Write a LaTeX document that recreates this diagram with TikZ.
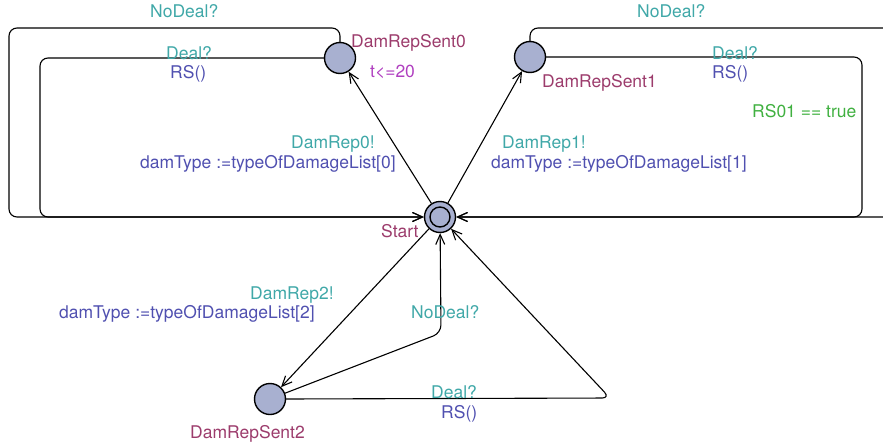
\documentclass[tikz,border=0pt]{standalone}
\usepackage{fontspec}
\setmainfont{TeX Gyre Heros}
\usetikzlibrary{arrows.meta}
\definecolor{locfill}{RGB}{168,176,208}
\definecolor{namecol}{RGB}{156,60,108}
\definecolor{synccol}{RGB}{64,168,168}
\definecolor{assigncol}{RGB}{80,80,176}
\definecolor{guardcol}{RGB}{64,176,64}
\definecolor{invcol}{RGB}{176,64,192}
\tikzset{
  loc/.style={circle,draw=black,line width=1.4pt,fill=locfill,minimum size=31pt,inner sep=0pt},
  edge/.style={draw=black,line width=1.1pt,rounded corners=8pt},
  arr/.style={-{Straight Barb[length=10pt,width=9pt,line width=1.1pt]}},
  lbl/.style={anchor=base west,inner sep=0pt,font=\fontsize{17.5}{21}\selectfont},
  nm/.style={lbl,text=namecol},
  sy/.style={lbl,text=synccol},
  as/.style={lbl,text=assigncol},
  gd/.style={lbl,text=guardcol},
  iv/.style={lbl,text=invcol}
}
\begin{document}
\begin{tikzpicture}[x=1pt,y=-1pt]
\useasboundingbox (0,0) rectangle (883,447);
% locations
\node[loc] (start) at (440,217) {};
\draw[line width=1.4pt] (start.center) circle (10);
\node[loc] (s0) at (340,58) {};
\node[loc] (s1) at (530,57) {};
\node[loc] (s2) at (270,399) {};
% edges
\draw[edge,arr] (start) -- (s0);
\draw[edge,arr] (start) -- (s1);
\draw[edge,arr] (start) -- (s2);
\draw[edge,arr] (s0.north) |- (9,28) |- (start);
\draw[edge,arr] (s0.west) -| (40,217) -- (start);
\draw[edge,arr] (s1.north) |- (905,28) |- (start);
\draw[edge,arr] (s1.east) -| (862,217) -- (start);
\draw[edge,arr] (s2) -- (441,333) -- (start);
\draw[edge,arr] (s2.east) -- (610,398) -- (start);
% labels
\node[nm] (nstart) at (381,237) {Start};
\node[nm] (ns0) at (351,47) {DamRepSent0};
\node[iv] (is0) at (370,77) {t<=20};
\node[nm] (ns1) at (542,87) {DamRepSent1};
\node[nm] (ns2) at (190,438) {DamRepSent2};
\node[sy] (l1) at (150,17) {NoDeal?};
\node[sy] (l2) at (166,59) {Deal?};
\node[as] (l3) at (170,78) {RS()};
\node[sy] (l4) at (291,148) {DamRep0!};
\node[as] (l5) at (140,168) {damType :=typeOfDamageList[0]};
\node[sy] (l6) at (637,17) {NoDeal?};
\node[sy] (l7) at (712,59) {Deal?};
\node[as] (l8) at (712,78) {RS()};
\node[gd] (l9) at (752,117) {RS01 == true};
\node[sy] (l10) at (502,148) {DamRep1!};
\node[as] (l11) at (491,168) {damType :=typeOfDamageList[1]};
\node[sy] (l12) at (250,299) {DamRep2!};
\node[as] (l13) at (59,318) {damType :=typeOfDamageList[2]};
\node[sy] (l14) at (411,318) {NoDeal?};
\node[sy] (l15) at (431,398) {Deal?};
\node[as] (l16) at (441,418) {RS()};
\end{tikzpicture}
\end{document}
